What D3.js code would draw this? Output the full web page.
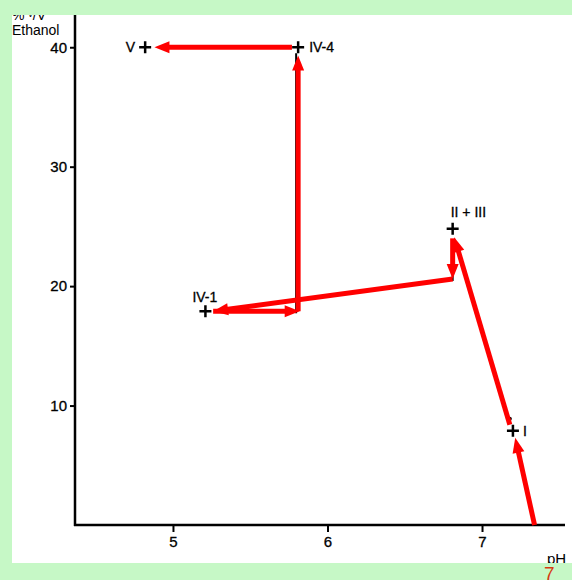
<!DOCTYPE html>
<html>
<head>
<meta charset="utf-8">
<script src="https://cdn.jsdelivr.net/npm/d3@7"></script>
<style>
  body { margin: 0; background: #c6f8c6; }
  text { font-family: "Liberation Sans", Arial, sans-serif; fill: #000; }
</style>
</head>
<body>
<svg id="chart" width="572" height="580"></svg>
<script>
(function() {
    'use strict';

    // fractions, pH vs % v/v ethanol
    var pointNames = ['V', 'IV-4', 'IV-1', 'II + III', 'I'];
    var pointPH = [4.82, 5.81, 5.21, 6.81, 7.20];
    var pointEtOH = [40, 40, 17.9, 24.8, 7.9];

    // elution path as arrows: from (pH, %) to (pH, %)
    var arrowFromPH = [7.34, 7.18, 6.81, 6.81, 5.26, 5.81, 5.77];
    var arrowFromEtOH = [0, 8.4, 24.0, 20.6, 17.9, 17.9, 40];
    var arrowToPH = [7.215, 6.82, 6.81, 5.26, 5.82, 5.81, 4.88];
    var arrowToEtOH = [7.3, 24.1, 20.6, 17.9, 17.9, 39.3, 40];

    var xTicks = [5, 6, 7];
    var yTicks = [10, 20, 30, 40];

    var svg = d3.select('#chart');

    // white paper
    svg.append('rect')
        .attr('x', 12).attr('y', 15)
        .attr('width', 560).attr('height', 548)
        .attr('fill', '#fff');

    var x = d3.scaleLinear().domain([4.366, 7.537]).range([75, 565]);
    var y = d3.scaleLinear().domain([0, 42.7]).range([525, 15]);

    // axes
    var yAxis = d3.axisLeft(y).tickValues(yTicks).tickFormat(d3.format('d'))
        .tickSize(5).tickPadding(3);
    var gy = svg.append('g').attr('transform', 'translate(75,0)').call(yAxis);
    var xAxis = d3.axisBottom(x).tickValues(xTicks).tickFormat(d3.format('d'))
        .tickSize(7).tickPadding(4);
    var gx = svg.append('g').attr('transform', 'translate(0,525)').call(xAxis);

    [gx, gy].forEach(function(g) {
        g.select('.domain').remove();
        g.selectAll('.tick line').attr('stroke', '#000').attr('stroke-width', 2);
        g.selectAll('.tick text')
            .style('font-size', '15px')
            .style('font-family', '"Liberation Sans", Arial, sans-serif')
            .attr('fill', '#000')
            .attr('stroke', '#000').attr('stroke-width', 0.3);
    });

    svg.append('line')
        .attr('x1', 75).attr('x2', 75)
        .attr('y1', 15).attr('y2', 526)
        .attr('stroke', '#000').attr('stroke-width', 2.5);
    svg.append('line')
        .attr('x1', 74).attr('x2', 565)
        .attr('y1', 525).attr('y2', 525)
        .attr('stroke', '#000').attr('stroke-width', 2.5);

    // original black guide lines under the red
    svg.append('line')
        .attr('x1', x(5.81) - 2).attr('x2', x(5.81) - 2)
        .attr('y1', y(40) + 6).attr('y2', y(17.9) + 2)
        .attr('stroke', '#000').attr('stroke-width', 2);
    svg.append('line')
        .attr('x1', x(6.81)).attr('x2', x(6.81))
        .attr('y1', y(23.5)).attr('y2', y(20.6) + 2)
        .attr('stroke', '#000').attr('stroke-width', 2);
    svg.append('circle')
        .attr('cx', x(7.18)).attr('cy', y(8.9)).attr('r', 2).attr('fill', '#000');

    // red arrows
    var headLen = 15, headW = 6;
    arrowFromPH.forEach(function(d, i) {
        var x1 = x(arrowFromPH[i]), y1 = y(arrowFromEtOH[i]);
        var x2 = x(arrowToPH[i]), y2 = y(arrowToEtOH[i]);
        var ang = Math.atan2(y2 - y1, x2 - x1);
        var bx = x2 - headLen * Math.cos(ang), by = y2 - headLen * Math.sin(ang);
        svg.append('line')
            .attr('x1', x1).attr('y1', y1)
            .attr('x2', bx + 2 * Math.cos(ang)).attr('y2', by + 2 * Math.sin(ang))
            .attr('stroke', '#ff0000').attr('stroke-width', 5)
            .attr('stroke-linecap', 'butt');
        var px = -Math.sin(ang) * headW, py = Math.cos(ang) * headW;
        svg.append('path')
            .attr('d', 'M' + x2 + ',' + y2 +
                'L' + (bx + px) + ',' + (by + py) +
                'L' + (bx - px) + ',' + (by - py) + 'Z')
            .attr('fill', '#ff0000');
    });

    // plus markers
    pointNames.forEach(function(name, i) {
        var cx = x(pointPH[i]), cy = y(pointEtOH[i]);
        svg.append('path')
            .attr('d', 'M' + (cx - 6) + ',' + cy + 'H' + (cx + 6) +
                'M' + cx + ',' + (cy - 6) + 'V' + (cy + 6))
            .attr('stroke', '#000').attr('stroke-width', 2.5);
    });

    // point labels
    var labelDx = [-10, 11, -13, -2, 10];
    var labelDy = [5, 5, -9, -12, 5];
    var labelAnchor = ['end', 'start', 'start', 'start', 'start'];
    pointNames.forEach(function(name, i) {
        svg.append('text')
            .attr('x', x(pointPH[i]) + labelDx[i])
            .attr('y', y(pointEtOH[i]) + labelDy[i])
            .attr('text-anchor', labelAnchor[i])
            .style('font-size', '14px')
            .attr('stroke', '#000').attr('stroke-width', 0.3)
            .text(name);
    });

    // axis titles
    svg.append('text')
        .attr('x', 12).attr('y', 20)
        .style('font-size', '14px')
        .text('% \u1D5B/V');
    svg.append('text')
        .attr('x', 12).attr('y', 35)
        .style('font-size', '14px')
        .text('Ethanol');
    svg.append('text')
        .attr('x', 547).attr('y', 564)
        .style('font-size', '15px')
        .text('pH');

    // green margins over the paper edges
    svg.append('rect')
        .attr('x', 0).attr('y', 0).attr('width', 572).attr('height', 15)
        .attr('fill', '#c6f8c6');
    svg.append('rect')
        .attr('x', 0).attr('y', 563).attr('width', 572).attr('height', 17)
        .attr('fill', '#c6f8c6');
    svg.append('rect')
        .attr('x', 0).attr('y', 0).attr('width', 12).attr('height', 580)
        .attr('fill', '#c6f8c6');

    svg.append('text')
        .attr('x', 544).attr('y', 580)
        .style('font-size', '19px')
        .style('fill', '#d63a10')
        .text('7');
})();
</script>
</body>
</html>
